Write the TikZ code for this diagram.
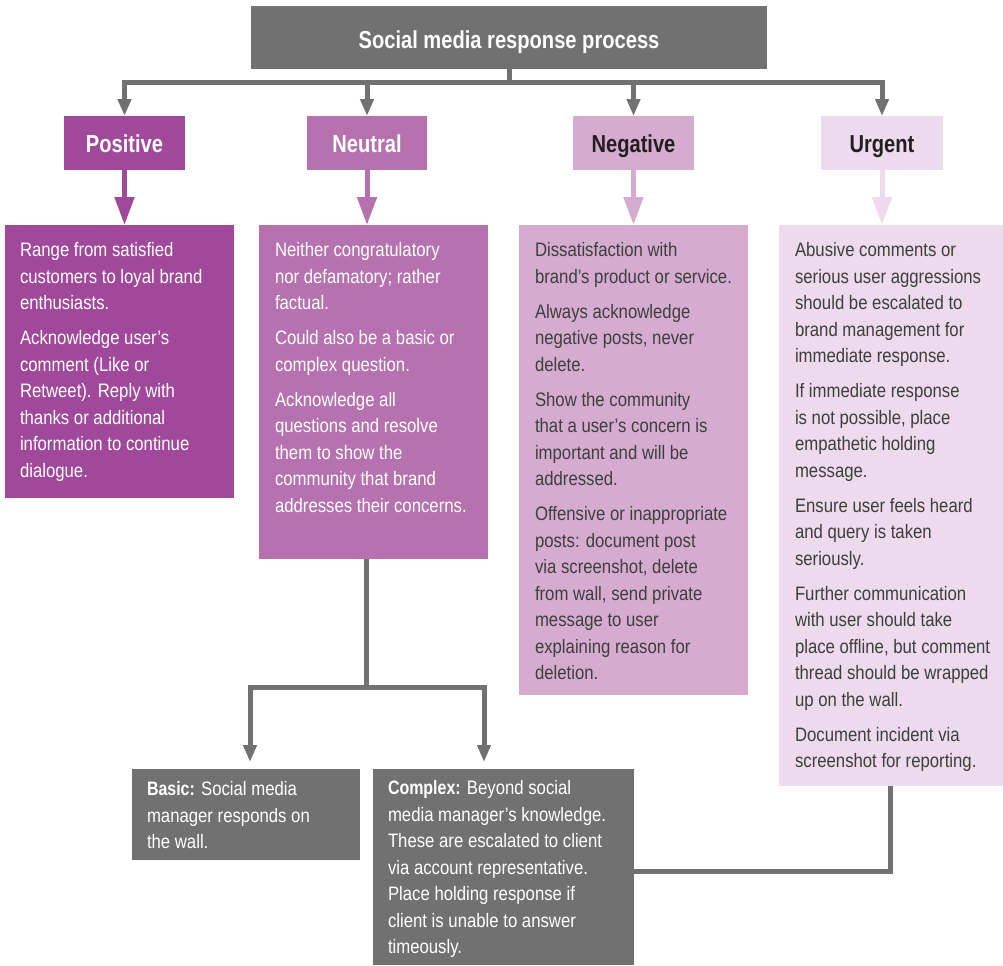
\documentclass[tikz,border=0pt]{standalone}
\usepackage{fontspec}
\setmainfont{Liberation Sans}[FakeStretch=0.86,BoldFeatures={FakeStretch=0.82}]
\usetikzlibrary{arrows.meta,fit}
\definecolor{gbox}{HTML}{717171}
\definecolor{cpos}{HTML}{A0489A}
\definecolor{cneu}{HTML}{B572AE}
\definecolor{cneg}{HTML}{D5ACD0}
\definecolor{curg}{HTML}{EDDAEC}
\definecolor{dlabel}{HTML}{231F20}
\definecolor{dtext}{HTML}{3E3E3E}
\tikzset{
  box/.style={inner sep=0pt, outer sep=0pt, draw=none},
  headbox/.style={box, font=\bfseries\fontsize{18.4}{21}\selectfont, text depth=0pt},
  catbox/.style={headbox, minimum height=40.5pt, minimum width=90.75pt, text height=14.6pt},
  body/.style={inner sep=0pt, outer sep=0pt, anchor=north west, align=left, font=\fontsize{14.6}{19.875}\selectfont},
  gline/.style={draw=gbox, line width=3.75pt},
  garrow/.style={gline, -{Triangle[length=12.75pt,width=9.75pt]}},
  carrow/.style={line width=3.75pt, -{Triangle[length=21pt,width=14.25pt]}},
}
\newcommand{\pg}{\\[6.3pt]}
\newcommand{\fl}{\rule{0pt}{11pt}}
\begin{document}
\begin{tikzpicture}[x=0.75pt,y=-0.75pt]
\useasboundingbox (0,0) rectangle (1003,965);

% title
\node[headbox, fill=gbox, text=white, minimum width=387pt, minimum height=47.25pt, text height=16.2pt] (title) at (509,37.5) {Social media response process};

% categories
\node[catbox, fill=cpos, text=white] (pos) at (124.5,143) {Positive};
\node[catbox, fill=cneu, text=white, minimum width=90pt] (neu) at (367,143) {Neutral};
\node[catbox, fill=cneg, text=dlabel] (neg) at (633.5,143) {Negative};
\node[catbox, fill=curg, text=dlabel, minimum width=91.5pt] (urg) at (882,143) {Urgent};

% detail boxes
\node[box, fill=cpos, fit={(5,225) (234,498)}] (pdet) {};
\node[box, fill=cneu, fit={(259,225) (488,559)}] (ndet) {};
\node[box, fill=cneg, fit={(519,225) (748,695)}] (gdet) {};
\node[box, fill=curg, fit={(779,225) (1003,786)}] (udet) {};
\node[box, fill=gbox, fit={(132,769) (360,860)}] (basic) {};
\node[box, fill=gbox, fit={(373,769) (634,965)}] (complex) {};

% texts (first baseline at y=257 -> top at 242.3)
\node[body, text=white] (ptxt) at (20,242.3) {\fl Range from satisfied\\customers to loyal brand\\enthusiasts.\pg
Acknowledge user’s\\comment (Like or\\Retweet). Reply with\\thanks or additional\\information to continue\\dialogue.};
\node[body, text=white] (ntxt) at (275,242.3) {\fl Neither congratulatory\\nor defamatory; rather\\factual.\pg
Could also be a basic or\\complex question.\pg
Acknowledge all\\questions and resolve\\them to show the\\community that brand\\addresses their concerns.};
\node[body, text=dtext] (gtxt) at (535,242.3) {\fl Dissatisfaction with\\brand’s product or service.\pg
Always acknowledge\\negative posts, never\\delete.\pg
Show the community\\that a user’s concern is\\important and will be\\addressed.\pg
Offensive or inappropriate\\posts: document post\\via screenshot, delete\\from wall, send private\\message to user\\explaining reason for\\deletion.};
\node[body, text=dtext] (utxt) at (795,242.3) {\fl Abusive comments or\\serious user aggressions\\should be escalated to\\brand management for\\immediate response.\pg
If immediate response\\is not possible, place\\empathetic holding\\message.\pg
Ensure user feels heard\\and query is taken\\seriously.\pg
Further communication\\with user should take\\place offline, but comment\\thread should be wrapped\\up on the wall.\pg
Document incident via\\screenshot for reporting.};
\node[body, text=white] (btxt) at (147,781.3) {\fl\textbf{Basic:} Social media\\manager responds on\\the wall.};
\node[body, text=white] (ctxt) at (388,780.3) {\fl\textbf{Complex:} Beyond social\\media manager’s knowledge.\\These are escalated to client\\via account representative.\\Place holding response if\\client is unable to answer\\timeously.};

% top connectors
\coordinate (bar) at (510,82);
\draw[gline] (title.south) -- (title.south |- bar);
\draw[garrow] (title.south |- bar) -| (pos.north);
\draw[garrow] (title.south |- bar) -| (neu.north);
\draw[garrow] (title.south |- bar) -| (neg.north);
\draw[garrow] (title.south |- bar) -| (urg.north);

% colored arrows
\draw[carrow, draw=cpos, fill=cpos] (pos.south) -- (pos.south |- pdet.north);
\draw[carrow, draw=cneu, fill=cneu] (neu.south) -- (neu.south |- ndet.north);
\draw[carrow, draw=cneg, fill=cneg] (neg.south) -- (neg.south |- gdet.north);
\draw[carrow, draw=curg, fill=curg] (urg.south) -- (urg.south |- udet.north);

% lower connectors
\coordinate (fork) at (366,687);
\coordinate (bx) at (250,0);
\coordinate (cx) at (484,0);
\draw[gline] (ndet.south -| fork) -- (fork);
\draw[garrow, shorten >=5.25pt] (fork) -| (basic.north -| bx);
\draw[garrow, shorten >=5.25pt] (fork) -| (complex.north -| cx);

\coordinate (uc) at (890,871);
\draw[gline] (udet.south -| uc) -- (uc) -- (complex.east |- uc);
\end{tikzpicture}
\end{document}
